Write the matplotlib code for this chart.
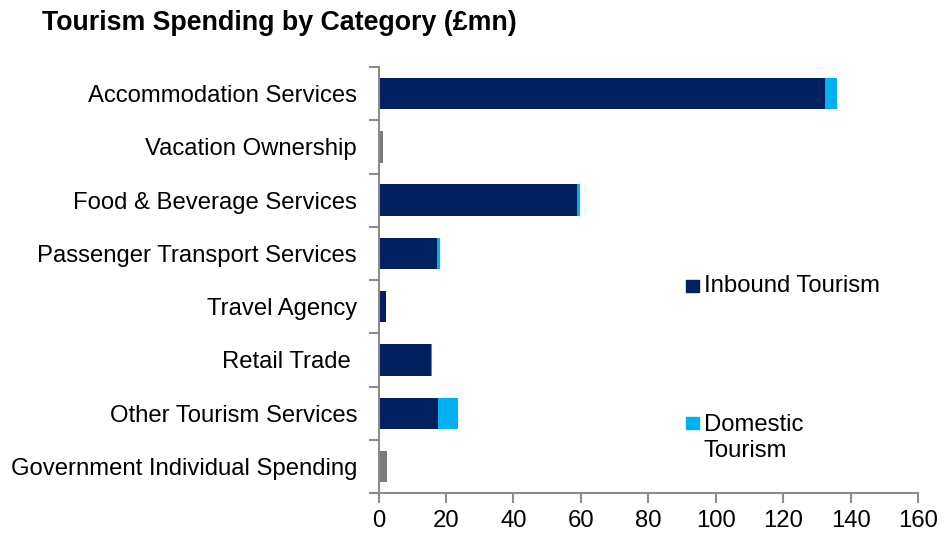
import matplotlib
matplotlib.use('Agg')
from matplotlib import pyplot as plt
from matplotlib.patches import Rectangle

plt.rcParams['font.family'] = ['Liberation Sans', 'DejaVu Sans']

# 数据（£mn）
categories = ['Accommodation Services', 'Vacation Ownership', 'Food & Beverage Services',
              'Passenger Transport Services', 'Travel Agency', 'Retail Trade ',
              'Other Tourism Services', 'Government Individual Spending']
inbound = [132.4, 0, 58.9, 17.3, 2.3, 15.7, 17.6, 0]
domestic = [3.6, 0, 0.9, 0.8, 0, 0.2, 5.9, 0]
unsplit = [0, 1.25, 0, 0, 0, 0, 0, 2.6]
x_ticks = [0, 20, 40, 60, 80, 100, 120, 140, 160]

navy = '#002060'
cyan = '#00B0F0'
grey = '#7F7B7B'
axis_c = '#8C8C8C'
fs = 17.2

fig = plt.figure(figsize=(9.48, 5.36), dpi=100)
ax = fig.add_axes([0.3993, 0.080, 0.5691, 0.795])

ypos = list(range(len(categories)))
ax.barh(ypos, inbound, height=0.59, color=navy)
ax.barh(ypos, domestic, left=inbound, height=0.59, color=cyan)
ax.barh(ypos, unsplit, height=0.59, color=grey)

ax.set_ylim(len(categories) - 0.5, -0.5)
ax.set_xlim(0, 160)
ax.set_xticks(x_ticks)
ax.set_yticks(ypos)
ax.set_yticklabels(categories, fontsize=fs)
ax.tick_params(axis='y', length=0, pad=15.5)
# 类别之间的刻度线
ax.set_yticks([i - 0.5 for i in range(len(categories) + 1)], minor=True)
ax.tick_params(axis='y', which='minor', length=7, color=axis_c, width=1.5, direction='out')
ax.tick_params(axis='x', length=7, color=axis_c, width=1.5, labelsize=fs, pad=5)

for side in ['top', 'right']:
    ax.spines[side].set_visible(False)
for side in ['left', 'bottom']:
    ax.spines[side].set_color(axis_c)
    ax.spines[side].set_linewidth(1.5)
ax.spines['bottom'].set_bounds(-1.8, 160)

# 图例
ax.add_patch(Rectangle((0.570, 0.472), 0.024, 0.028, transform=ax.transAxes,
                       color=navy, clip_on=False))
ax.text(0.603, 0.486, 'Inbound Tourism', transform=ax.transAxes, fontsize=fs, va='center')
ax.add_patch(Rectangle((0.570, 0.150), 0.024, 0.029, transform=ax.transAxes,
                       color=cyan, clip_on=False))
ax.text(0.603, 0.130, 'Domestic\nTourism', transform=ax.transAxes, fontsize=fs,
        va='center', linespacing=1.22)

fig.text(0.044, 0.957, 'Tourism Spending by Category (£mn)', fontsize=19.3,
         fontweight='bold', va='center')

fig.savefig('out.png', dpi=100)
